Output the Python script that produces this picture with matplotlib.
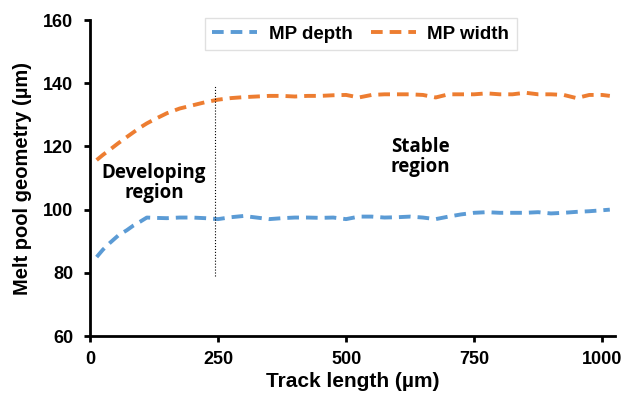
import matplotlib
matplotlib.use("Agg")
import matplotlib.pyplot as plt

plt.rcParams['font.family'] = ['Liberation Sans', 'DejaVu Sans']
plt.rcParams['font.weight'] = 'bold'

track = [13, 25, 39, 55, 72, 85, 98, 111, 125, 150, 175, 200, 225, 250, 275, 300, 325, 350, 375, 400,
         425, 450, 475, 500, 525, 550, 575, 600, 625, 650, 675, 700, 725, 750, 775, 800,
         825, 850, 875, 900, 925, 950, 975, 1000, 1015]
mp_depth = [85, 87.3, 89.5, 91.8, 93.5, 95, 96.2, 97.5, 97.4, 97.3, 97.5, 97.5, 97.3, 97, 97.6, 98,
            97.5, 97, 97.3, 97.5, 97.5, 97.4, 97.5, 97, 97.8, 97.8, 97.5, 97.6, 97.8, 97.5, 97, 97.8,
            98.5, 99, 99.2, 99, 99, 99, 99.2, 98.8, 99, 99.3, 99.5, 99.8, 100]
mp_width = [115.7, 117.3, 119, 121, 123, 124.5, 126, 127.3, 128.5, 130.5, 132, 133, 134, 134.8, 135.3,
            135.6, 135.8, 136, 136, 135.8, 136, 136, 136.2, 136.3, 135.5, 136.3, 136.5, 136.5, 136.5,
            136.3, 135.5, 136.5, 136.5, 136.5, 136.8, 136.5, 136.5, 137, 136.5, 136.5, 136.3, 135.3,
            136.3, 136.3, 136]
divider_x = 244
divider_y = [79, 139]

fig = plt.figure(figsize=(6.32, 4.01), dpi=100)
ax = fig.add_axes([0.1424, 0.162, 0.8306, 0.788])

ax.plot(track, mp_depth, color='#5B9BD5', lw=2.8, ls=(0, (3, 1.8)), label='MP depth')
ax.plot(track, mp_width, color='#ED7D31', lw=2.8, ls=(0, (3, 1.8)), label='MP width')
ax.plot([divider_x, divider_x], divider_y, color='black', lw=0.8, ls=':')

ax.set_xlim(0, 1025)
ax.set_ylim(60, 160)
ax.set_xticks([0, 250, 500, 750, 1000])
ax.set_yticks([60, 80, 100, 120, 140, 160])
for s in ['top', 'right']:
    ax.spines[s].set_visible(False)
for s in ['left', 'bottom']:
    ax.spines[s].set_linewidth(2)
ax.tick_params(width=2, length=4, labelsize=13)
ax.tick_params(axis='x', pad=7)
ax.tick_params(axis='y', pad=8)
for lbl in ax.get_xticklabels() + ax.get_yticklabels():
    lbl.set_fontweight('bold')

ax.set_xlabel('Track length (µm)', fontsize=15, fontweight='bold', labelpad=3)
ax.set_ylabel('Melt pool geometry (µm)', fontsize=14.5, fontweight='bold', labelpad=8)

ann_font = ['Open Sans', 'DejaVu Sans']
ax.text(125, 108.4, 'Developing\nregion', ha='center', va='center', fontsize=13.5,
        fontweight='bold', family=ann_font, linespacing=1.0)
ax.text(645, 116.6, 'Stable\nregion', ha='center', va='center', fontsize=13.5,
        fontweight='bold', family=ann_font, linespacing=1.0)

leg = ax.legend(loc='upper center', bbox_to_anchor=(0.516, 1.035), ncol=2, fontsize=13.5,
                frameon=True, fancybox=False, edgecolor='#d9d9d9', handlelength=2.4,
                columnspacing=1.0, borderpad=0.4, handletextpad=0.6)
leg.get_frame().set_linewidth(1.0)
for t in leg.get_texts():
    t.set_fontweight('bold')

fig.savefig('out.png', dpi=100)
